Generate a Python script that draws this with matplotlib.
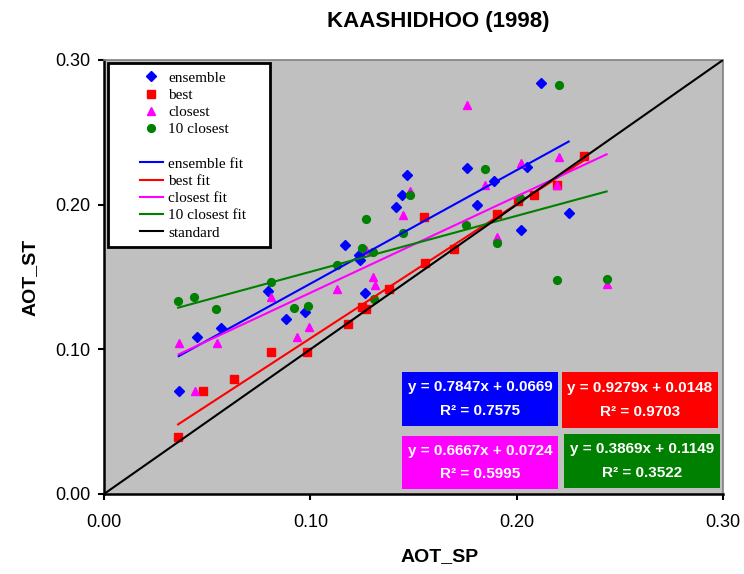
import numpy as np
import matplotlib
matplotlib.use('Agg')
import matplotlib.pyplot as plt
from matplotlib.lines import Line2D
from matplotlib.patches import Rectangle
from matplotlib.ticker import FormatStrFormatter, MultipleLocator

plt.rcParams['font.family'] = ['Liberation Sans', 'DejaVu Sans']

# AOT_SP / AOT_ST pairs for each retrieval
ens_x = [0.0362, 0.0451, 0.0565, 0.0797, 0.0884, 0.0974, 0.1168, 0.1238, 0.1240, 0.1263,
         0.1417, 0.1446, 0.1469, 0.1758, 0.1808, 0.1892, 0.2021, 0.2050, 0.2118, 0.2252]
ens_y = [0.0714, 0.1085, 0.1145, 0.1406, 0.1212, 0.1256, 0.1719, 0.1652, 0.1615, 0.1392,
         0.1984, 0.2067, 0.2205, 0.2251, 0.2000, 0.2164, 0.1825, 0.2263, 0.2843, 0.1942]

best_x = [0.0359, 0.0478, 0.0630, 0.0809, 0.0984, 0.1181, 0.1250, 0.1270, 0.1383, 0.1550,
          0.1556, 0.1696, 0.1903, 0.2006, 0.2083, 0.2196, 0.2325]
best_y = [0.0396, 0.0714, 0.0797, 0.0984, 0.0984, 0.1177, 0.1295, 0.1277, 0.1417, 0.1917,
          0.1594, 0.1691, 0.1933, 0.2025, 0.2067, 0.2136, 0.2336]

clo_x = [0.0362, 0.0440, 0.0546, 0.0810, 0.0934, 0.0992, 0.1130, 0.1268, 0.1304, 0.1313,
         0.1449, 0.1485, 0.1758, 0.1847, 0.1905, 0.2019, 0.2196, 0.2205, 0.2436]
clo_y = [0.1044, 0.0714, 0.1044, 0.1360, 0.1085, 0.1154, 0.1417, 0.1689, 0.1500, 0.1445,
         0.1929, 0.2097, 0.2689, 0.2136, 0.1774, 0.2290, 0.2136, 0.2330, 0.1449]

c10_x = [0.0359, 0.0435, 0.0543, 0.0810, 0.0919, 0.0989, 0.1130, 0.1249, 0.1268, 0.1305,
         0.1309, 0.1448, 0.1483, 0.1754, 0.1845, 0.1905, 0.2018, 0.2194, 0.2204, 0.2436]
c10_y = [0.1336, 0.1360, 0.1280, 0.1463, 0.1288, 0.1300, 0.1586, 0.1700, 0.1900, 0.1675,
         0.1348, 0.1806, 0.2067, 0.1860, 0.2249, 0.1733, 0.2043, 0.1481, 0.2829, 0.1488]

# linear fits (slope, intercept, R^2)
slopes = [0.7847, 0.9279, 0.6667, 0.3869]
intercepts = [0.0669, 0.0148, 0.0724, 0.1149]
r2 = [0.7575, 0.9703, 0.5995, 0.3522]

names = ['ensemble', 'best', 'closest', '10 closest']
colors = ['#0000FF', '#FF0000', '#FF00FF', '#008000']
markers = ['D', 's', '^', 'o']
msizes = [5.2, 5.6, 6.2, 5.6]

W, H = 744, 574


def fx(px):
    return px / W


def fy(py):
    return 1 - py / H


fig = plt.figure(figsize=(W / 100, H / 100), dpi=100)
ax = fig.add_axes([fx(104), fy(494), (723 - 104) / W, (494 - 60) / H])
ax.set_facecolor('#C0C0C0')

series = [(ens_x, ens_y), (best_x, best_y), (clo_x, clo_y), (c10_x, c10_y)]
for (xs, ys), c, m, ms in zip(series, colors, markers, msizes):
    ax.plot(xs, ys, ls='none', marker=m, color=c, ms=ms, mec=c, zorder=3)

for (xs, ys), c, a, b in zip(series, colors, slopes, intercepts):
    xx = np.array([min(xs), max(xs)])
    ax.plot(xx, a * xx + b, color=c, lw=1.5, zorder=4)

ax.plot([0, 0.3], [0, 0.3], color='black', lw=1.5, zorder=4)

ax.set_xlim(0, 0.3)
ax.set_ylim(0, 0.3)
ax.xaxis.set_major_locator(MultipleLocator(0.1))
ax.yaxis.set_major_locator(MultipleLocator(0.1))
ax.xaxis.set_major_formatter(FormatStrFormatter('%.2f'))
ax.yaxis.set_major_formatter(FormatStrFormatter('%.2f'))
ax.tick_params(direction='out', length=4.5, width=1.5, labelsize=13)
ax.tick_params(axis='x', pad=10)
ax.tick_params(axis='y', pad=5)
for s in ['left', 'bottom']:
    ax.spines[s].set_linewidth(1.8)
    ax.spines[s].set_color('black')
for s in ['top', 'right']:
    ax.spines[s].set_linewidth(1.2)
    ax.spines[s].set_color('#808080')

fig.text(fx(438), fy(21), 'KAASHIDHOO (1998)', ha='center', va='center',
         fontsize=16, fontweight='bold')
fig.text(fx(440), fy(557), 'AOT_SP', ha='center', va='center',
         fontsize=14, fontweight='bold')
fig.text(fx(30), fy(277), 'AOT_ST', ha='center', va='center', rotation=90,
         fontsize=14, fontweight='bold')

# legend box
fig.add_artist(Rectangle((fx(108), fy(247)), (270 - 108) / W, (247 - 63) / H,
                         transform=fig.transFigure, facecolor='white',
                         edgecolor='black', lw=2, zorder=5))
handles = []
labels = []
for n, c, m, ms in zip(names, colors, markers, msizes):
    handles.append(Line2D([], [], ls='none', marker=m, color=c, ms=ms))
    labels.append(n)
handles.append(Line2D([], [], ls='none'))
labels.append(' ')
for n, c in zip(names, colors):
    handles.append(Line2D([], [], color=c, lw=1.5))
    labels.append(n + ' fit')
handles.append(Line2D([], [], color='black', lw=1.5))
labels.append('standard')
leg = fig.legend(handles, labels, loc='upper left', bbox_to_anchor=(fx(140), fy(71)),
                 frameon=False, prop={'family': 'Liberation Serif', 'size': 11},
                 handlelength=1.5, handletextpad=0.33, labelspacing=0.23,
                 borderpad=0, borderaxespad=0)
leg.set_zorder(6)

# fit equation boxes
boxes = [(402, 372, 558, 426), (562, 372, 718, 428), (402, 436, 558, 489), (564, 434, 720, 488)]
for (x0, y0, x1, y1), c, a, b, r in zip(boxes, colors, slopes, intercepts, r2):
    fig.add_artist(Rectangle((fx(x0), fy(y1)), (x1 - x0) / W, (y1 - y0) / H,
                             transform=fig.transFigure, facecolor=c, edgecolor='none',
                             zorder=5))
    cx = (x0 + x1) / 2
    cy = (y0 + y1) / 2
    fig.text(fx(cx), fy(cy - 12), 'y = %.4fx + %.4f' % (a, b), ha='center', va='center',
             color='white', fontsize=11, fontweight='bold', zorder=6)
    fig.text(fx(cx), fy(cy + 12), 'R\u00b2 = %.4f' % r, ha='center', va='center',
             color='white', fontsize=11, fontweight='bold', zorder=6)

fig.savefig('out.png', dpi=100)
